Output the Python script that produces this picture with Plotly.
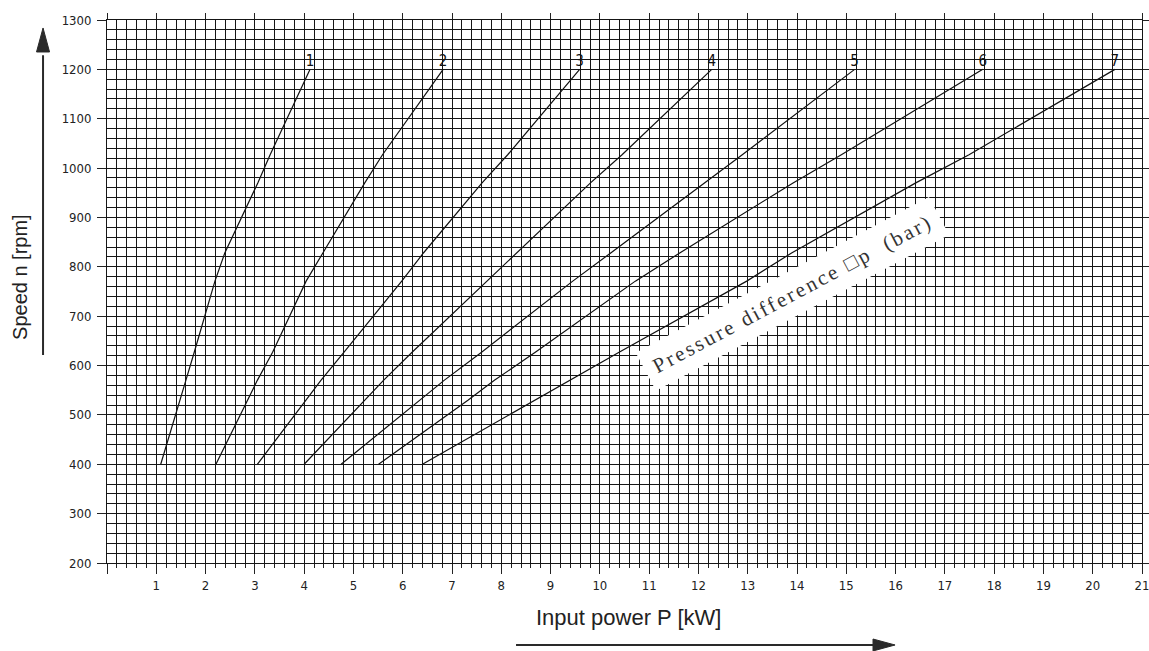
import plotly.graph_objects as go

# Speed values (rpm) at which the curves were read
speed_rpm = [400, 530, 570, 627, 771, 828, 970, 1027, 1200]

# Input power (kW) of each pressure-difference curve
curve_labels = ["1", "2", "3", "4", "5", "6", "7"]
power_1 = [1.09, 1.47, 1.60, 1.77, 2.19, 2.39, 3.06, 3.31, 4.12]
power_2 = [2.21, 2.85, 3.05, 3.36, 4.04, 4.38, 5.23, 5.59, 6.82]
power_3 = [3.05, 4.05, 4.34, 4.81, 5.98, 6.42, 7.61, 8.13, 9.59]
power_4 = [4.00, 5.23, 5.61, 6.19, 7.71, 8.32, 9.81, 10.45, 12.27]
power_5 = [4.75, 6.33, 6.84, 7.60, 9.45, 10.22, 12.14, 12.89, 15.17]
power_6 = [5.51, 7.33, 7.86, 8.69, 10.72, 11.62, 13.92, 14.90, 17.77]
power_7 = [6.40, 8.68, 9.38, 10.39, 12.98, 13.89, 16.41, 17.49, 20.45]
curves = [power_1, power_2, power_3, power_4, power_5, power_6, power_7]

x_tick_vals = list(range(0, 22))
x_tick_text = [""] + [str(v) for v in range(1, 22)]
y_tick_vals = list(range(200, 1301, 100))

TICK_FONT = dict(family="Liberation Sans Narrow, DejaVu Sans Condensed, Roboto Condensed, Liberation Sans",
                 size=13, color="#222")
GRID = "#151515"

fig = go.Figure()

for p in curves:
    fig.add_trace(go.Scatter(x=p, y=speed_rpm, mode="lines",
                             line=dict(color="#111", width=1.2),
                             hoverinfo="skip", showlegend=False))

fig.add_trace(go.Scatter(x=[c[-1] for c in curves], y=[speed_rpm[-1]] * len(curves),
                         mode="text", text=curve_labels, textposition="top center",
                         textfont=dict(family=TICK_FONT["family"], size=15, color="#111"),
                         hoverinfo="skip", showlegend=False))

# invisible trace for the mirrored tick axes
fig.add_trace(go.Scatter(x=[0], y=[200], xaxis="x2", yaxis="y2", mode="markers",
                         marker=dict(opacity=0), hoverinfo="skip", showlegend=False))

fig.update_layout(
    width=1149, height=651,
    margin=dict(l=107, r=7, t=20, b=88, autoexpand=False),
    paper_bgcolor="white", plot_bgcolor="white",
    xaxis=dict(range=[0, 21], tickvals=x_tick_vals, ticktext=x_tick_text, automargin=False,
               ticklabeloverflow="allow",
               ticks="outside", ticklen=10, tickwidth=1, tickcolor="#222",
               showgrid=True, gridcolor=GRID, gridwidth=1,
               showline=True, linecolor=GRID, linewidth=1, mirror=True,
               zeroline=False, tickfont=TICK_FONT,
               minor=dict(dtick=0.2, tick0=0, ticks="outside", ticklen=4,
                          tickcolor="#222", showgrid=True, gridcolor=GRID, gridwidth=1)),
    yaxis=dict(range=[200, 1300], tickvals=y_tick_vals, automargin=False,
               ticklabeloverflow="allow",
               ticks="outside", ticklen=9, tickwidth=1, tickcolor="#222",
               showgrid=True, gridcolor=GRID, gridwidth=1,
               showline=True, linecolor=GRID, linewidth=1, mirror=True,
               zeroline=False, tickfont=TICK_FONT, ticklabelstandoff=3,
               minor=dict(dtick=20, tick0=200, ticks="", showgrid=True,
                          gridcolor=GRID, gridwidth=1)),
    xaxis2=dict(range=[0, 21], overlaying="x", side="top", anchor="y2", automargin=False,
                tickvals=x_tick_vals, ticks="outside", ticklen=6, tickcolor="#222",
                showticklabels=False, showgrid=False, zeroline=False, showline=False),
    yaxis2=dict(range=[200, 1300], overlaying="y", side="right", anchor="x2", automargin=False,
                tickvals=y_tick_vals, ticks="outside", ticklen=7, tickcolor="#222",
                showticklabels=False, showgrid=False, zeroline=False, showline=False),
)

fig.add_annotation(x=-0.0841, y=0.5267, xref="paper", yref="paper", xshift=-13,
                   text="Speed n [rpm]", textangle=-90, showarrow=False,
                   font=dict(family="Liberation Sans, Arial", size=20, color="#222"))
fig.add_annotation(x=0.5043, y=-0.105, xref="paper", yref="paper", yshift=-12,
                   text="Input power P [kW]", showarrow=False,
                   font=dict(family="Liberation Sans, Arial", size=22, color="#222"))
fig.add_annotation(x=13.9, y=745, xref="x", yref="y",
                   text="<span style='letter-spacing:2.5px'>Pressure difference \u25a1p  (bar)</span>",
                   textangle=-28, showarrow=False, bgcolor="white", borderpad=9,
                   font=dict(family="Liberation Serif, DejaVu Serif", size=21, color="#333"))

ARROW = "#2a2a2a"
# horizontal arrow (below x title)
fig.add_shape(type="line", xref="paper", yref="paper", x0=0.3952, x1=0.745, y0=-0.151, y1=-0.151,
              line=dict(color=ARROW, width=2))
fig.add_shape(type="path", xref="paper", yref="paper",
              path="M 0.7401 -0.1400 L 0.7614 -0.151 L 0.7401 -0.1620 Z",
              fillcolor=ARROW, line=dict(color=ARROW, width=1))
# vertical arrow (beside y title)
fig.add_shape(type="line", xref="paper", yref="paper", x0=-0.0618, x1=-0.0618, y0=0.3831, y1=0.935,
              line=dict(color=ARROW, width=2))
fig.add_shape(type="path", xref="paper", yref="paper",
              path="M -0.0681 0.9411 L -0.0618 0.9853 L -0.0555 0.9411 Z",
              fillcolor=ARROW, line=dict(color=ARROW, width=1))

fig.write_html("out.html")
